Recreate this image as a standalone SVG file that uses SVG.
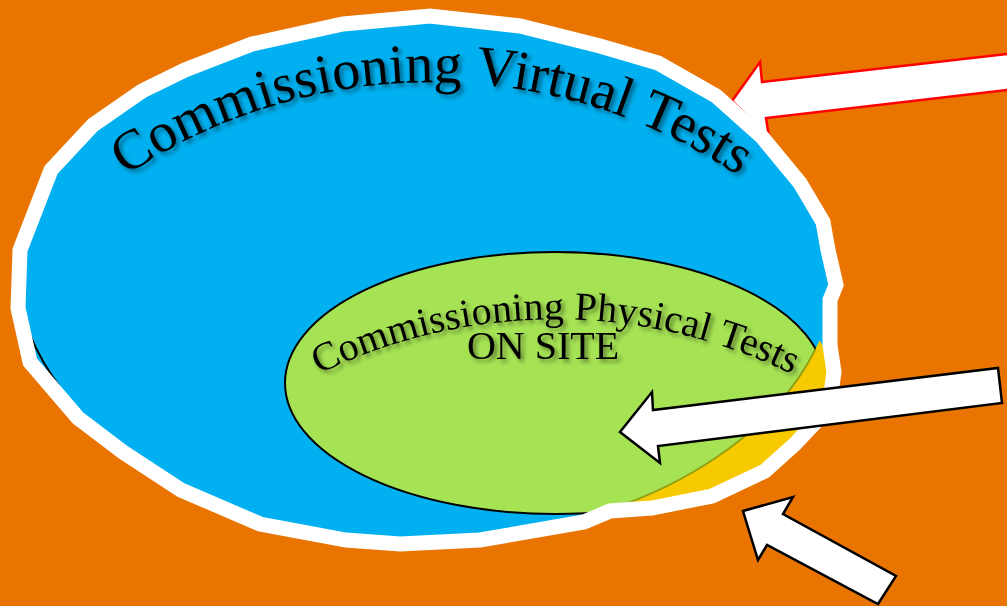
<svg xmlns="http://www.w3.org/2000/svg" width="1007" height="606" viewBox="0 0 1007 606">
<style>
.txt{font-family:"Liberation Serif","Times New Roman",serif;fill:#000;}
.arrow{fill:#fff;stroke:#000;stroke-width:2.5;stroke-linejoin:miter;}
</style>
<defs>
<filter id="sh" x="-10%" y="-30%" width="120%" height="160%">
<feDropShadow dx="3" dy="3" stdDeviation="2" flood-color="#000" flood-opacity="0.45"/>
</filter>
<clipPath id="blueClip"><ellipse cx="426" cy="260" rx="411" ry="279"/></clipPath>
<clipPath id="outsideBlue"><path clip-rule="evenodd" d="M -10,-10 H 1020 V 620 H -10 Z M 15,260 A 411 279 0 1 0 837,260 A 411 279 0 1 0 15,260 Z"/></clipPath>
<clipPath id="greenClip"><ellipse cx="555" cy="383" rx="270" ry="131"/></clipPath>
<clipPath id="leftClip"><rect x="0" y="300" width="60" height="100"/></clipPath>
<clipPath id="polyClip"><polygon points="343,24 430,16 520,26 600,46 658,63 716,96 762,137 800,183 823,222 828,250 836,285 830,300 830,345 834,372 829,408 808,430 795,444 765,471 712,496 652,508 610,511 584,522 480,540 400,544 346,540 260,524 181,490 123,452 78,418 30,362 18,308 20,250 51,170 93,125 142,91 185,70 252,44"/></clipPath>
<path id="arcBig" d="M 99,195 A 548 548 0 0 1 765,195" fill="none"/>
<path id="arcSmall" d="M 298,385 A 538 538 0 0 1 813,385" fill="none"/>
</defs>
<rect x="0" y="0" width="1007" height="606" fill="#E97400"/>
<g id="red-arrow">
<polygon points="732,101 760,62 762,82 1015,53 1015,89 766,118 769,137" fill="#fff" stroke="#FF0000" stroke-width="2.5" stroke-linejoin="miter"/>
</g>
<g id="virtual-tests">
<polygon points="343,24 430,16 520,26 600,46 658,63 716,96 762,137 800,183 823,222 828,250 836,285 830,300 830,345 834,372 829,408 808,430 795,444 765,471 712,496 652,508 610,511 584,522 480,540 400,544 346,540 260,524 181,490 123,452 78,418 30,362 18,308 20,250 51,170 93,125 142,91 185,70 252,44" fill="#00B0F0"/>
<g clip-path="url(#leftClip)">
<ellipse cx="426" cy="260" rx="411" ry="279" fill="none" stroke="#000" stroke-width="2"/>
</g>
</g>
<g id="physical-tests">
<g clip-path="url(#polyClip)">
<g clip-path="url(#outsideBlue)">
<ellipse cx="555" cy="383" rx="278" ry="139" fill="#F7CA00"/>
</g>
<ellipse cx="555" cy="383" rx="270" ry="131" fill="#A6E354" clip-path="url(#blueClip)"/>
<g clip-path="url(#greenClip)">
<ellipse cx="426" cy="260" rx="411" ry="279" fill="none" stroke="#93A010" stroke-width="2"/>
</g>
<g clip-path="url(#blueClip)">
<ellipse cx="555" cy="383" rx="270" ry="131" fill="none" stroke="#000" stroke-width="2"/>
</g>
</g>
</g>
<g id="border">
<polygon points="343,24 430,16 520,26 600,46 658,63 716,96 762,137 800,183 823,222 828,250 836,285 830,300 830,345 834,372 829,408 808,430 795,444 765,471 712,496 652,508 610,511 584,522 480,540 400,544 346,540 260,524 181,490 123,452 78,418 30,362 18,308 20,250 51,170 93,125 142,91 185,70 252,44" fill="none" stroke="#fff" stroke-width="15" stroke-linejoin="miter"/>
</g>
<g id="labels" filter="url(#sh)">
<text class="txt" font-size="56"><textPath href="#arcBig" startOffset="50%" text-anchor="middle">Commissioning Virtual Tests</textPath></text>
<text class="txt" font-size="40"><textPath href="#arcSmall" startOffset="50%" text-anchor="middle">Commissioning Physical Tests</textPath></text>
<text class="txt" font-size="40" x="543" y="359" text-anchor="middle">ON SITE</text>
</g>
<g id="connectors">
<polygon class="arrow" points="620,432 652,392 653,410 998,368 1002,403 658,446 660,463"/>
<polygon class="arrow" points="743,511 793,497 783,514 896,576 878,604 767,545 758,560"/>
</g>
</svg>
